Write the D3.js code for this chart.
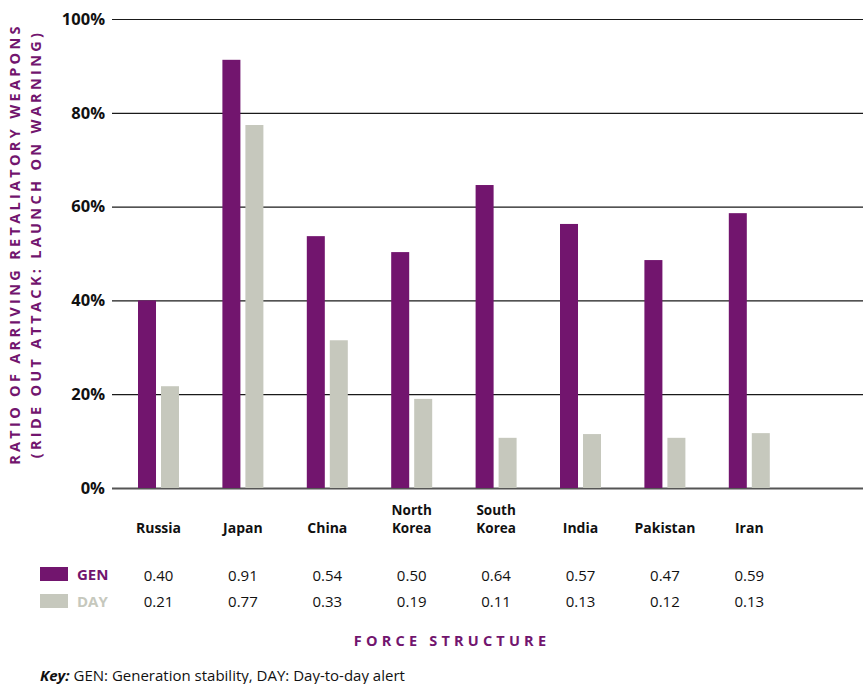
<!DOCTYPE html>
<html><head><meta charset="utf-8">
<script src="https://cdn.jsdelivr.net/npm/d3@7"></script>
<style>
html,body{margin:0;padding:0;background:#fff;}
svg{display:block;font-family:"Open Sans","Noto Sans",sans-serif;}
</style></head>
<body>
<svg id="chart" width="863" height="684"></svg>
<script>
// ---- data ----
const categories = ["Russia","Japan","China","North Korea","South Korea","India","Pakistan","Iran"];
const genValues = [0.40, 0.913, 0.537, 0.503, 0.646, 0.563, 0.486, 0.586];   // bar heights
const dayValues = [0.217, 0.774, 0.315, 0.19, 0.107, 0.115, 0.107, 0.117];
const genLabels = ["0.40","0.91","0.54","0.50","0.64","0.57","0.47","0.59"];  // table text
const dayLabels = ["0.21","0.77","0.33","0.19","0.11","0.13","0.12","0.13"];
const seriesNames = ["GEN","DAY"];
const yTicks = [0, 0.2, 0.4, 0.6, 0.8, 1.0];

const purple = "#72156e", gray = "#c6c8bd";
const svg = d3.select("#chart");

const y = d3.scaleLinear().domain([0,1]).range([488,19]);
const x = d3.scaleBand().domain(categories).range([116.3, 116.3 + 84.4*8]).padding(0);
const xs = d3.scaleBand().domain(seriesNames).range([-20.5, 20.5]).paddingInner(0.217).paddingOuter(0);
const center = c => x(c) + x.bandwidth()/2;

// gridlines / axis
const yAxis = d3.axisLeft(y).tickValues(yTicks).tickFormat(d3.format(".0%")).tickSize(-(863-112)).tickPadding(7);
const gAxis = svg.append("g").attr("transform","translate(112,0)").call(yAxis);
gAxis.select(".domain").remove();
gAxis.selectAll(".tick line").attr("stroke","#1a1a1a").attr("stroke-width",1.2);
gAxis.selectAll(".tick").filter(d=>d===0).select("line").attr("stroke","#555").attr("stroke-width",2);
gAxis.selectAll(".tick text").attr("font-size",16.5).attr("font-weight","bold").attr("fill","#111")
  .attr("font-family",'"Open Sans",sans-serif');

// bars
const groups = svg.append("g").selectAll("g").data(categories).join("g")
  .attr("transform", c => `translate(${center(c)},0)`);
groups.append("rect").attr("x", xs("GEN")).attr("width", xs.bandwidth())
  .attr("y", (c,i)=>y(genValues[i])).attr("height",(c,i)=>y(0)-y(genValues[i])).attr("fill",purple);
groups.append("rect").attr("x", xs("DAY")).attr("width", xs.bandwidth())
  .attr("y", (c,i)=>y(dayValues[i])).attr("height",(c,i)=>y(0)-y(dayValues[i])).attr("fill",gray);

// category labels
groups.each(function(c){
  const g = d3.select(this);
  const parts = c.split(" ");
  if (parts.length === 1) {
    g.append("text").attr("text-anchor","middle").attr("font-size",14).attr("font-weight","bold").attr("fill","#111")
      .attr("y",533).text(c);
  } else {
    parts.forEach((p,k)=> g.append("text").attr("text-anchor","middle").attr("font-size",13.5)
      .attr("font-weight","bold").attr("fill","#111").attr("y",515 + k*18).text(p));
  }
});

// table values
groups.append("text").attr("text-anchor","middle").attr("font-size",15).attr("fill","#111")
  .attr("y",581).text((c,i)=>genLabels[i]);
groups.append("text").attr("text-anchor","middle").attr("font-size",15).attr("fill","#111")
  .attr("y",607).text((c,i)=>dayLabels[i]);

// legend
const leg = svg.append("g");
[[purple, "GEN", 567],[gray, "DAY", 594]].forEach(([col, name, yy])=>{
  leg.append("rect").attr("x",40).attr("y",yy).attr("width",28).attr("height",14).attr("fill",col);
  leg.append("text").attr("x",77).attr("y",yy+13).attr("font-size",15).attr("font-weight","bold")
    .attr("fill",col).text(name);
});

// x title
svg.append("text").attr("x",452).attr("y",646).attr("text-anchor","middle").attr("font-size",14.5)
  .attr("font-weight","bold").attr("letter-spacing","4.2px").attr("fill",purple).text("FORCE STRUCTURE");

// y title
const yt = svg.append("text").attr("transform","translate(0,244) rotate(-90)").attr("text-anchor","middle")
  .attr("font-size",14.5).attr("font-weight","bold").attr("letter-spacing","3.3px").attr("fill",purple);
yt.append("tspan").attr("x",0).attr("y",20).text("RATIO OF ARRIVING RETALIATORY WEAPONS");
yt.append("tspan").attr("x",0).attr("y",41).text("(RIDE OUT ATTACK: LAUNCH ON WARNING)");

// key
const key = svg.append("text").attr("x",40).attr("y",681).attr("font-size",15).attr("fill","#111");
key.append("tspan").attr("font-style","italic").attr("font-weight","bold").text("Key:");
key.append("tspan").text(" GEN: Generation stability, DAY: Day-to-day alert");
</script>
</body></html>
